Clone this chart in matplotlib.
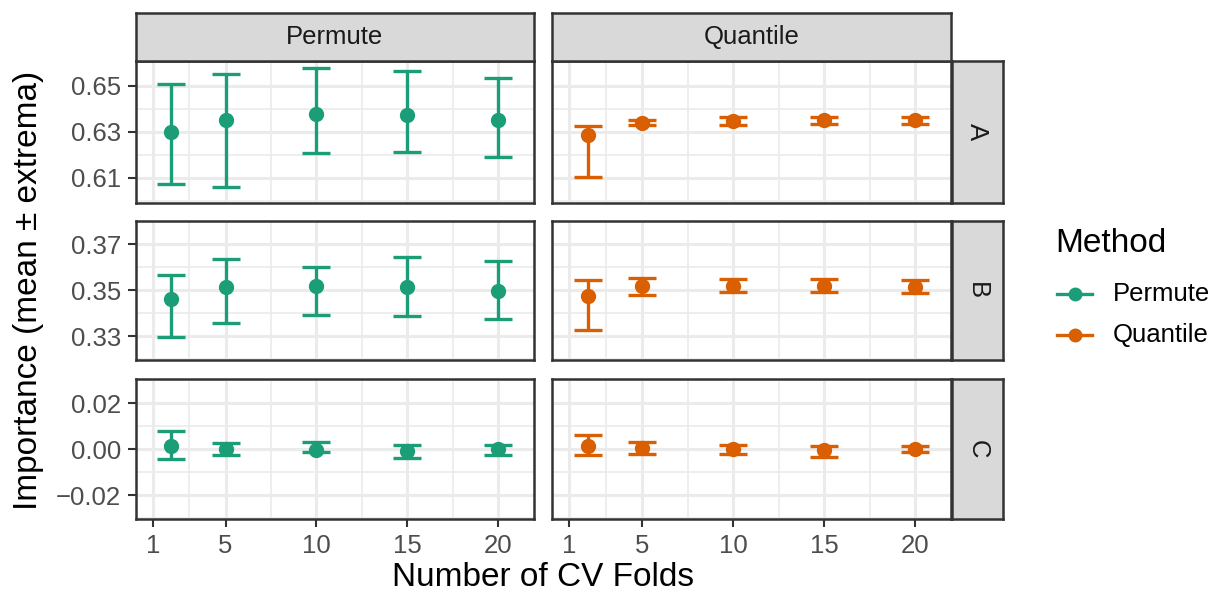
import matplotlib
matplotlib.use('Agg')
import matplotlib.pyplot as plt
from matplotlib.lines import Line2D

plt.rcParams['font.family'] = ['Liberation Sans', 'DejaVu Sans']

# data
folds = [2, 5, 10, 15, 20]
methods = ['Permute', 'Quantile']
features = ['A', 'B', 'C']
colors = {'Permute': '#1B9E77', 'Quantile': '#D95F02'}

mean_vals = {
    ('A', 'Permute'): [0.6300, 0.6352, 0.6377, 0.6371, 0.6352],
    ('A', 'Quantile'): [0.6287, 0.6339, 0.6347, 0.6349, 0.6349],
    ('B', 'Permute'): [0.3464, 0.3516, 0.3519, 0.3514, 0.3497],
    ('B', 'Quantile'): [0.3475, 0.3519, 0.3519, 0.3519, 0.3516],
    ('C', 'Permute'): [0.0013, 0.0001, -0.0003, -0.0007, 0.0000],
    ('C', 'Quantile'): [0.0013, 0.0007, 0.0000, -0.0003, 0.0000],
}
max_vals = {
    ('A', 'Permute'): [0.6506, 0.6549, 0.6574, 0.6564, 0.6531],
    ('A', 'Quantile'): [0.6326, 0.6351, 0.6362, 0.6365, 0.6365],
    ('B', 'Permute'): [0.3568, 0.3635, 0.3603, 0.3645, 0.3628],
    ('B', 'Quantile'): [0.3545, 0.3552, 0.3548, 0.3548, 0.3545],
    ('C', 'Permute'): [0.0078, 0.0029, 0.0032, 0.0020, 0.0017],
    ('C', 'Quantile'): [0.0061, 0.0033, 0.0020, 0.0016, 0.0013],
}
min_vals = {
    ('A', 'Permute'): [0.6075, 0.6062, 0.6206, 0.6214, 0.6190],
    ('A', 'Quantile'): [0.6106, 0.6327, 0.6330, 0.6333, 0.6333],
    ('B', 'Permute'): [0.3299, 0.3358, 0.3391, 0.3387, 0.3374],
    ('B', 'Quantile'): [0.3328, 0.3480, 0.3493, 0.3493, 0.3490],
    ('C', 'Permute'): [-0.0042, -0.0026, -0.0013, -0.0039, -0.0023],
    ('C', 'Quantile'): [-0.0026, -0.0020, -0.0019, -0.0035, -0.0010],
}

x_ticks = [1, 5, 10, 15, 20]
x_minor = [3, 7.5, 12.5, 17.5]
y_ticks = {'A': [0.61, 0.63, 0.65], 'B': [0.33, 0.35, 0.37], 'C': [-0.02, 0.00, 0.02]}
y_ticklabels = {'A': ['0.61', '0.63', '0.65'], 'B': ['0.33', '0.35', '0.37'],
                'C': ['\u22120.02', '0.00', '0.02']}
y_minor = {'A': [0.60, 0.62, 0.64, 0.66], 'B': [0.32, 0.34, 0.36, 0.38], 'C': [-0.03, -0.01, 0.01, 0.03]}
y_lims = {'A': (0.5993, 0.6606), 'B': (0.3197, 0.3803), 'C': (-0.0303, 0.0304)}

W, H = 1212, 594
fig = plt.figure(figsize=(W / 100, H / 100), dpi=100)

col_x = [(135.7, 534.0), (552.3, 951.0)]
row_y = [(61.0, 202.7), (220.7, 360.0), (379.3, 519.0)]
border = '#333333'
grid = '#EBEBEB'
small = 18.5
big = 24

def px(x0, y0, x1, y1):
    return [x0 / W, 1 - y1 / H, (x1 - x0) / W, (y1 - y0) / H]

def strip(rect, label, rot):
    sa = fig.add_axes(rect)
    sa.set_xticks([]); sa.set_yticks([])
    sa.set_facecolor('#D9D9D9')
    for s in sa.spines.values():
        s.set_color(border); s.set_linewidth(1.8)
    sa.text(0.5, 0.5, label, ha='center', va='center', fontsize=small,
            color='#1A1A1A', rotation=rot, transform=sa.transAxes)

for r, f in enumerate(features):
    for c, m in enumerate(methods):
        ax = fig.add_axes(px(col_x[c][0], row_y[r][0], col_x[c][1], row_y[r][1]))
        ax.set_xlim(0.06, 21.97)
        ax.set_ylim(*y_lims[f])
        for v in x_minor:
            ax.axvline(v, color=grid, lw=1.2, zorder=0)
        for v in x_ticks:
            ax.axvline(v, color=grid, lw=2.2, zorder=0)
        for v in y_minor[f]:
            ax.axhline(v, color=grid, lw=1.2, zorder=0)
        for v in y_ticks[f]:
            ax.axhline(v, color=grid, lw=2.2, zorder=0)
        mu = mean_vals[(f, m)]
        lo = [a - b for a, b in zip(mu, min_vals[(f, m)])]
        hi = [b - a for a, b in zip(mu, max_vals[(f, m)])]
        ax.errorbar(folds, mu, yerr=[lo, hi], fmt='o', color=colors[m],
                    ms=10, elinewidth=2.4, capsize=9.8, capthick=2.4, zorder=3)
        ax.set_xticks(x_ticks)
        ax.set_yticks(y_ticks[f])
        ax.set_yticklabels(y_ticklabels[f])
        ax.tick_params(colors=border, labelcolor='#4D4D4D', labelsize=small,
                       length=6, width=1.5, pad=4.5)
        if c != 0:
            ax.tick_params(axis='y', left=False, labelleft=False)
        if r != 2:
            ax.tick_params(axis='x', bottom=False, labelbottom=False)
        for s in ax.spines.values():
            s.set_color(border)
            s.set_linewidth(1.8)
        if r == 0:
            strip(px(col_x[c][0], 13.0, col_x[c][1], 61.0), m, 0)
        if c == 1:
            strip(px(951.5, row_y[r][0], 1003.0, row_y[r][1]), f, -90)

fig.text(543 / W, 1 - 578 / H, 'Number of CV Folds', ha='center', va='center', fontsize=big)
fig.text(29 / W, 1 - 290 / H, 'Importance (mean \u00b1 extrema)', ha='center', va='center',
         rotation=90, fontsize=big)

# legend
fig.text(1055 / W, 1 - 243 / H, 'Method', ha='left', va='center', fontsize=big)
for m, yk in zip(methods, [294, 335]):
    yf = 1 - yk / H
    fig.add_artist(Line2D([1057 / W, 1092 / W], [yf, yf], transform=fig.transFigure,
                          color=colors[m], lw=2.4))
    fig.add_artist(Line2D([1074.5 / W], [yf], transform=fig.transFigure,
                          color=colors[m], marker='o', ms=9, lw=0))
    fig.text(1113 / W, yf, m, ha='left', va='center', fontsize=small)

fig.savefig('out.png', dpi=100)
